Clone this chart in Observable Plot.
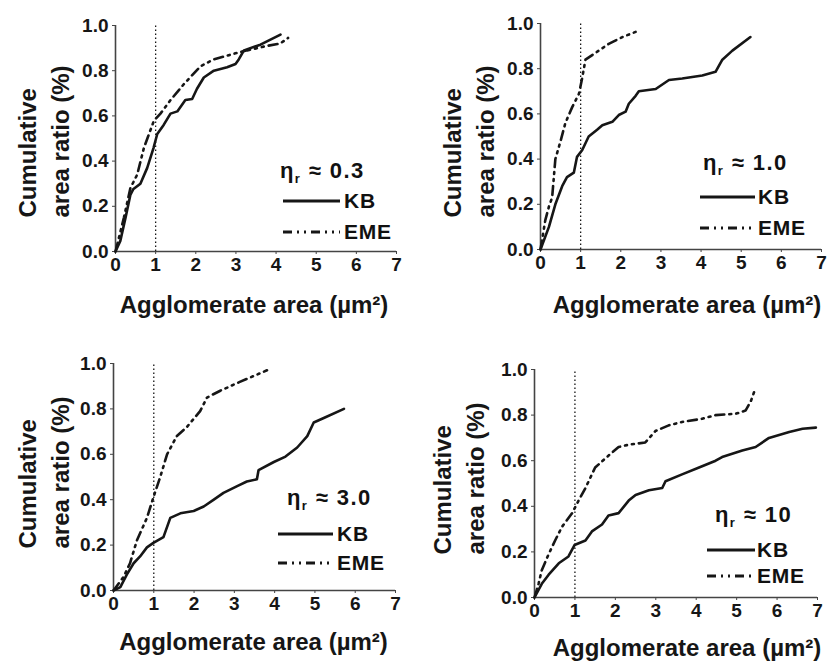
<!DOCTYPE html>
<html><head><meta charset="utf-8">
<script src="https://cdn.jsdelivr.net/npm/d3@7"></script>
<script src="https://cdn.jsdelivr.net/npm/@observablehq/plot@0.6"></script>
<style>
body{margin:0;background:#fff;}
#root{position:relative;width:830px;height:661px;overflow:hidden;font-family:"Liberation Sans",Arial,Helvetica,sans-serif;color:#111;}
.panel{position:absolute;}
.title{position:absolute;font-weight:bold;font-size:22px;line-height:24px;white-space:nowrap;letter-spacing:1.4px;}
.title sub{font-size:13px;vertical-align:-5px;line-height:0;}
.ltext{position:absolute;font-weight:bold;font-size:21px;line-height:24px;white-space:nowrap;letter-spacing:0.8px;}
svg.sw{position:absolute;overflow:visible;}
</style></head><body><div id="root"></div>
<script>
// ---- tick labels and text ----
const xTicks = [0, 1, 2, 3, 4, 5, 6, 7];
const yTicks = [0, 0.2, 0.4, 0.6, 0.8, 1.0];
const seriesNames = ["KB", "EME"];
const etaValues = ["0.3", "1.0", "3.0", "10"];
const xLabel = "Agglomerate area (\u00b5m\u00b2)";
const yLabel = "Cumulative\narea ratio (%)";
const thresholdX = [1];

// ---- panel 1: eta_r ~ 0.3 ----
const kb1X  = [0, 0.12, 0.25, 0.37, 0.44, 0.62, 0.79, 0.95, 1.04, 1.2, 1.37, 1.54, 1.74, 1.91, 2.03, 2.2, 2.45, 2.78, 2.99, 3.07, 3.2, 3.61, 4.11];
const kb1Y  = [0, 0.047, 0.15, 0.25, 0.275, 0.30, 0.37, 0.46, 0.52, 0.56, 0.61, 0.62, 0.67, 0.675, 0.72, 0.77, 0.80, 0.815, 0.83, 0.85, 0.89, 0.915, 0.96];
const eme1X = [0, 0.21, 0.37, 0.54, 0.71, 0.96, 1.12, 1.37, 1.70, 2.12, 2.45, 2.95, 3.28, 3.78, 4.1, 4.3];
const eme1Y = [0, 0.15, 0.28, 0.34, 0.46, 0.58, 0.61, 0.67, 0.74, 0.82, 0.85, 0.875, 0.89, 0.91, 0.92, 0.945];

// ---- panel 2: eta_r ~ 1.0 ----
const kb2X  = [0, 0.21, 0.37, 0.54, 0.66, 0.83, 0.91, 1.04, 1.2, 1.41, 1.54, 1.79, 1.95, 2.12, 2.2, 2.37, 2.45, 2.87, 3.2, 3.53, 4.03, 4.36, 4.53, 4.78, 5.23];
const kb2Y  = [0, 0.10, 0.20, 0.28, 0.32, 0.34, 0.41, 0.44, 0.50, 0.53, 0.55, 0.565, 0.595, 0.61, 0.645, 0.68, 0.70, 0.71, 0.75, 0.757, 0.77, 0.786, 0.84, 0.88, 0.94];
const eme2X = [0, 0.12, 0.21, 0.29, 0.37, 0.50, 0.62, 0.79, 0.96, 1.04, 1.12, 1.37, 1.70, 2.04, 2.37];
const eme2Y = [0, 0.13, 0.19, 0.23, 0.40, 0.48, 0.56, 0.63, 0.69, 0.76, 0.84, 0.87, 0.91, 0.94, 0.963];

// ---- panel 3: eta_r ~ 3.0 ----
const kb3X  = [0, 0.17, 0.33, 0.5, 0.66, 0.83, 0.99, 1.24, 1.41, 1.66, 1.99, 2.24, 2.49, 2.73, 3.07, 3.31, 3.56, 3.6, 3.98, 4.27, 4.56, 4.81, 4.97, 5.22, 5.72];
const kb3Y  = [0, 0.015, 0.07, 0.12, 0.15, 0.19, 0.21, 0.235, 0.32, 0.34, 0.35, 0.37, 0.40, 0.43, 0.46, 0.48, 0.49, 0.53, 0.566, 0.59, 0.63, 0.68, 0.74, 0.76, 0.80];
const eme3X = [0, 0.25, 0.41, 0.58, 0.83, 0.99, 1.16, 1.33, 1.57, 1.82, 2.15, 2.32, 2.65, 3.15, 3.81];
const eme3Y = [0, 0.06, 0.12, 0.22, 0.32, 0.41, 0.50, 0.60, 0.68, 0.72, 0.79, 0.85, 0.88, 0.92, 0.97];

// ---- panel 4: eta_r ~ 10 ----
const kb4X  = [0, 0.18, 0.35, 0.60, 0.84, 0.99, 1.26, 1.42, 1.67, 1.83, 2.08, 2.33, 2.50, 2.83, 3.16, 3.24, 3.65, 4.07, 4.48, 4.64, 5.14, 5.47, 5.80, 6.30, 6.63, 6.96];
const kb4Y  = [0, 0.06, 0.10, 0.15, 0.18, 0.23, 0.25, 0.29, 0.32, 0.36, 0.37, 0.425, 0.45, 0.47, 0.48, 0.51, 0.54, 0.57, 0.60, 0.616, 0.645, 0.66, 0.70, 0.726, 0.74, 0.745];
const eme4X = [0, 0.10, 0.18, 0.35, 0.51, 0.68, 0.93, 1.09, 1.26, 1.50, 1.75, 2.08, 2.33, 2.74, 2.99, 3.32, 3.65, 4.15, 4.48, 4.98, 5.22, 5.35, 5.47];
const eme4Y = [0, 0.06, 0.12, 0.19, 0.25, 0.31, 0.37, 0.425, 0.48, 0.57, 0.61, 0.66, 0.67, 0.68, 0.73, 0.755, 0.77, 0.784, 0.80, 0.806, 0.82, 0.86, 0.92];

const seriesData = [
  [[kb1X, kb1Y], [eme1X, eme1Y]],
  [[kb2X, kb2Y], [eme2X, eme2Y]],
  [[kb3X, kb3Y], [eme3X, eme3Y]],
  [[kb4X, kb4Y], [eme4X, eme4Y]]
];

// ---- layout (positions only) ----
const layout = [
  {left: 0,   top: 0,   w: 415, h: 330, mL: 115, mR: 19, mT: 25, mB: 79, xdx: -2, xdy: 54, ydx: -73.5, ydy: 79,
   title: [280, 171], rows: [[283, 340, 201], [283, 340, 232]], tx: 344},
  {left: 415, top: 0,   w: 415, h: 330, mL: 125, mR: 9,  mT: 23, mB: 81, xdx: 6,  xdy: 56, ydx: -73.5, ydy: 81,
   title: [703, 163], rows: [[700, 755, 197], [700, 755, 228]], tx: 758},
  {left: 0,   top: 330, w: 415, h: 331, mL: 113, mR: 20, mT: 33, mB: 71, xdx: -1, xdy: 52, ydx: -71.5, ydy: 71.5,
   title: [287, 498], rows: [[278, 333, 534], [278, 333, 563]], tx: 337},
  {left: 415, top: 330, w: 415, h: 331, mL: 119, mR: 13, mT: 39, mB: 64, xdx: 11, xdy: 51, ydx: -77.5, ydy: 71,
   title: [715, 515], rows: [[707, 755, 550], [707, 755, 576]], tx: 757}
];

const ink = "#161616";
const emeDash = "9,5,2,5,2,5";
const root = document.getElementById("root");

layout.forEach((L, i) => {
  const [kb, eme] = seriesData[i];
  const kbRows = kb[0].map((x, j) => ({x, y: kb[1][j]}));
  const emeRows = eme[0].map((x, j) => ({x, y: eme[1][j]}));
  const chart = Plot.plot({
    width: L.w, height: L.h,
    marginLeft: L.mL, marginRight: L.mR, marginTop: L.mT, marginBottom: L.mB,
    x: {domain: [0, 7]},
    y: {domain: [0, 1]},
    style: {fontFamily: '"Liberation Sans", Arial, sans-serif', fontWeight: "bold", color: ink, background: "transparent", overflow: "visible"},
    marks: [
      Plot.ruleX(thresholdX, {y1: 0, y2: 1, stroke: ink, strokeWidth: 1.3, strokeDasharray: "1.5,2.5"}),
      Plot.ruleY([0], {stroke: "#444", strokeWidth: 1.6}),
      Plot.ruleX([0], {stroke: "#444", strokeWidth: 1.6}),
      Plot.axisX({ticks: xTicks, tickFormat: d3.format("d"), tickSize: 3, tickPadding: 3, fontSize: 19, fontWeight: "bold", stroke: "#444", label: null}),
      Plot.axisY({ticks: yTicks, tickFormat: d3.format(".1f"), tickSize: 3, tickPadding: 4, fontSize: 19, fontWeight: "bold", stroke: "#444", label: null}),
      Plot.line(emeRows, {x: "x", y: "y", stroke: ink, strokeWidth: 2.6, strokeDasharray: emeDash}),
      Plot.line(kbRows, {x: "x", y: "y", stroke: ink, strokeWidth: 2.6}),
      Plot.text([xLabel], {frameAnchor: "bottom", text: d => d, dx: L.xdx, dy: L.xdy, textAnchor: "middle", lineAnchor: "middle", fontSize: 24, fontWeight: "bold", fill: ink, ariaLabel: "xlabel"}),
      Plot.text([yLabel], {frameAnchor: "left", text: d => d, rotate: -90, dx: L.ydx, dy: L.ydy, textAnchor: "start", lineAnchor: "middle", lineHeight: 1.35, fontSize: 24, fontWeight: "bold", fill: ink, ariaLabel: "ylabel"})
    ]
  });
  chart.classList.add("panel");
  chart.style.left = L.left + "px";
  chart.style.top = L.top + "px";
  chart.querySelectorAll('g[aria-label="ylabel"] text').forEach(t => t.style.letterSpacing = "1.4px");
  root.appendChild(chart);

  // legend
  const title = document.createElement("div");
  title.className = "title";
  title.style.left = L.title[0] + "px";
  title.style.top = (L.title[1] - 12) + "px";
  title.innerHTML = "\u03b7<sub>r</sub> \u2248 " + etaValues[i];
  root.appendChild(title);
  L.rows.forEach((r, k) => {
    const ns = "http://www.w3.org/2000/svg";
    const s = document.createElementNS(ns, "svg");
    s.setAttribute("class", "sw");
    s.setAttribute("width", r[1] - r[0]);
    s.setAttribute("height", 6);
    s.style.left = r[0] + "px";
    s.style.top = (r[2] - 3) + "px";
    const ln = document.createElementNS(ns, "line");
    ln.setAttribute("x1", 0); ln.setAttribute("x2", r[1] - r[0]);
    ln.setAttribute("y1", 3); ln.setAttribute("y2", 3);
    ln.setAttribute("stroke", ink); ln.setAttribute("stroke-width", 2.8);
    if (k === 1) ln.setAttribute("stroke-dasharray", emeDash);
    s.appendChild(ln);
    root.appendChild(s);
    const t = document.createElement("div");
    t.className = "ltext";
    t.style.left = L.tx + "px";
    t.style.top = (r[2] - 12) + "px";
    t.textContent = seriesNames[k];
    root.appendChild(t);
  });
});
</script></body></html>
